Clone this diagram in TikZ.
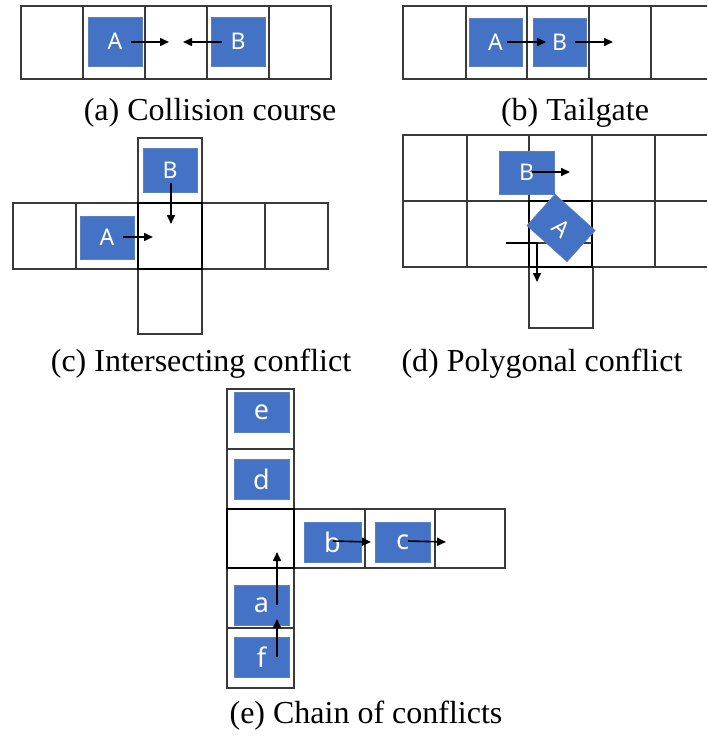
\documentclass[tikz,border=0pt]{standalone}
\usepackage{fontspec}
\setmainfont{Liberation Serif}
\newfontfamily\labfont{Noto Sans}
\usetikzlibrary{arrows.meta}
\definecolor{carblue}{HTML}{4472C4}
\definecolor{caredge}{HTML}{5A80C8}
\definecolor{gridc}{HTML}{3A3A3A}
\tikzset{
  cell/.style={draw=gridc, line width=1.2pt},
  thickcell/.style={draw=black, line width=2.2pt},
  car/.style={fill=carblue, draw=caredge, line width=0.6pt, inner sep=0pt,
    text=white, font=\labfont\fontsize{23}{23}\selectfont},
  carsmall/.style={car, font=\labfont\fontsize{27}{27}\selectfont},
  mv/.style={draw=black, line width=1.6pt, -{Triangle[length=9pt,width=8pt]}},
  caption/.style={anchor=base, font=\fontsize{32}{32}\selectfont, inner sep=0pt}
}
\begin{document}
\begin{tikzpicture}[x=1pt,y=-1pt]
\useasboundingbox (0,0) rectangle (707,738);

% ---------- (a) Collision course ----------
\foreach \xa/\xb in {21/83,83/145,145/207,207/269,269/331}
  \draw[cell] (\xa,6) rectangle (\xb,79);
\node[car, minimum width=54pt, minimum height=49pt] (aA) at (115,41.5) {A};
\node[car, minimum width=54pt, minimum height=49pt] (aB) at (238,41.5) {B};
\coordinate (aAs) at (131,42); \coordinate (aAe) at (169,42);
\coordinate (aBs) at (222,42); \coordinate (aBe) at (183,42);
\draw[mv] (aAs) -- (aAe);
\draw[mv] (aBs) -- (aBe);
\node[caption] (capa) at (210,121) {(a) Collision course};

% ---------- (b) Tailgate ----------
\foreach \xa/\xb in {403/466,466/527,527/589,589/651}
  \draw[cell] (\xa,6) rectangle (\xb,79);
\draw[cell] (707,6) -- (651,6) -- (651,79) -- (707,79);
\node[car, minimum width=53pt, minimum height=48pt] (bA) at (495.5,42) {A};
\node[car, minimum width=53pt, minimum height=48pt] (bB) at (559.5,42) {B};
\coordinate (bAs) at (507,42); \coordinate (bAe) at (546,42);
\coordinate (bBs) at (575,42); \coordinate (bBe) at (613,42);
\draw[mv] (bAs) -- (bAe);
\draw[mv] (bBs) -- (bBe);
\node[caption] (capb) at (575,121) {(b) Tailgate};

% ---------- (c) Intersecting conflict ----------
\foreach \xa/\xb in {13/76,76/138,202/265,265/328}
  \draw[cell] (\xa,203) rectangle (\xb,269);
\draw[cell] (138,138) rectangle (202,203);
\draw[cell] (138,269) rectangle (202,334);
\draw[thickcell] (138,203) rectangle (202,269);
\node[car, minimum width=54pt, minimum height=43pt] (cA) at (107,237.5) {A};
\node[car, minimum width=54pt, minimum height=44pt] (cB) at (170,170) {B};
\coordinate (cAs) at (123,237); \coordinate (cAe) at (153,237);
\coordinate (cBs) at (171,183); \coordinate (cBe) at (171,224);
\draw[mv] (cAs) -- (cAe);
\draw[mv] (cBs) -- (cBe);
\node[caption] (capc) at (201,371) {(c) Intersecting conflict};

% ---------- (d) Polygonal conflict ----------
\foreach \ya/\yb in {135/201,201/267}{
  \foreach \xa/\xb in {403/467,467/529,529/592,592/655}
    \draw[cell] (\xa,\ya) rectangle (\xb,\yb);
  \draw[cell] (707,\ya) -- (655,\ya) -- (655,\yb) -- (707,\yb);
}
\draw[cell] (529,267) rectangle (593,328);
\draw[thickcell] (529,201) rectangle (592,267);
\draw[cell] (529,243) -- (592,243);
\node[car, minimum width=55pt, minimum height=43pt] (dB) at (526.5,172.5) {B};
\node[car, minimum width=54pt, minimum height=42pt, rotate=-42] (dA) at (561,228) {A};
\coordinate (dBs) at (532,172); \coordinate (dBe) at (570,172);
\draw[mv] (dBs) -- (dBe);
\coordinate (dAs) at (506,243); \coordinate (dAk) at (537,243); \coordinate (dAe) at (537,282);
\draw[mv] (dAs) -- (dAk) -- (dAe);
\node[caption] (capd) at (542,371) {(d) Polygonal conflict};

% ---------- (e) Chain of conflicts ----------
\foreach \ya/\yb in {389/449,449/509,568/628,628/688}
  \draw[cell] (227,\ya) rectangle (294,\yb);
\foreach \xa/\xb in {294/365,365/435,435/505}
  \draw[cell] (\xa,509) rectangle (\xb,568);
\draw[thickcell] (227,509) rectangle (294,568);
\node[carsmall, minimum width=55pt, minimum height=40pt] (ee) at (261.5,412) {e};
\node[carsmall, minimum width=55pt, minimum height=40pt] (ed) at (261.5,479) {d};
\node[carsmall, minimum width=55pt, minimum height=40pt] (ea) at (261.5,605) {a};
\node[carsmall, minimum width=55pt, minimum height=40pt] (ef) at (261.5,657) {f};
\node[carsmall, minimum width=57pt, minimum height=40pt] (eb) at (332.5,542) {b};
\node[carsmall, minimum width=55pt, minimum height=40pt] (ec) at (402.5,542) {c};
\coordinate (eas) at (277,605); \coordinate (eae) at (277,552);
\coordinate (efs) at (277,657); \coordinate (efe) at (277,619);
\coordinate (ebs) at (333,541); \coordinate (ebe) at (371,542);
\coordinate (ecs) at (408,541); \coordinate (ece) at (446,542);
\draw[mv] (eas) -- (eae);
\draw[mv] (efs) -- (efe);
\draw[mv] (ebs) -- (ebe);
\draw[mv] (ecs) -- (ece);
\node[caption] (cape) at (366,723) {(e) Chain of conflicts};
\end{tikzpicture}
\end{document}
